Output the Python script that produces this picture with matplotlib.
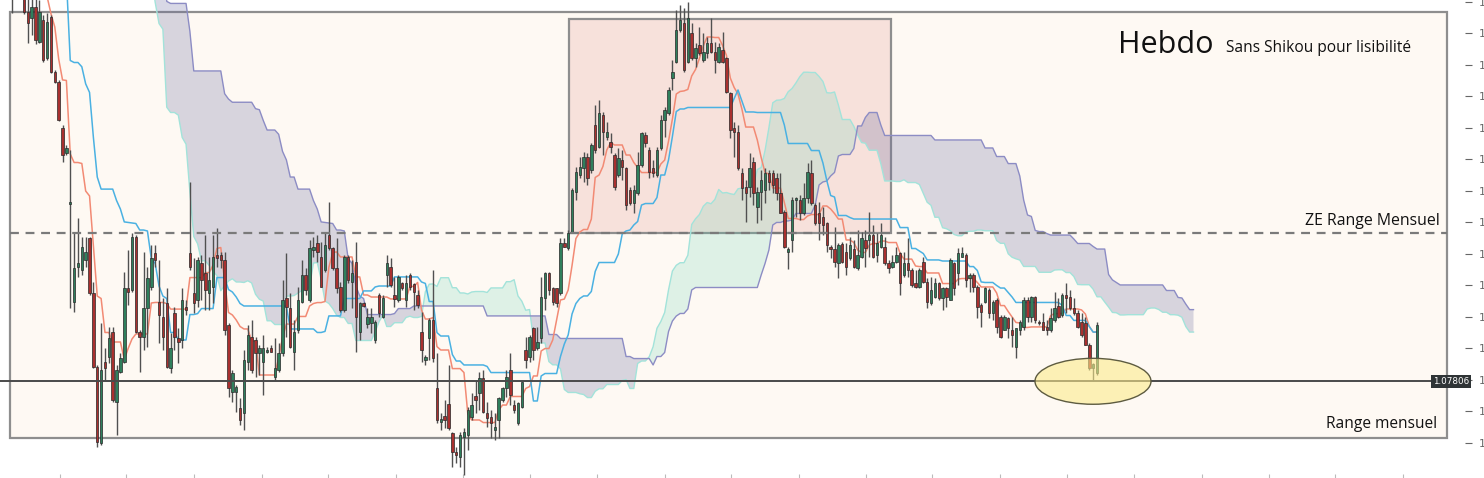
import numpy as np
import pandas as pd
import matplotlib
matplotlib.use("Agg")
import matplotlib.pyplot as plt
from matplotlib.patches import Rectangle, Ellipse
from matplotlib.ticker import FormatStrFormatter
from matplotlib.transforms import blended_transform_factory

# EUR/USD weekly candles, oldest first.
# The first 39 weeks (Jan -> Sep 2014) sit above the visible window,
# they are only there so the Ichimoku lines exist from the left edge.
first_week = "2014-01-06"

opens = [
    1.3590, 1.3670, 1.3540, 1.3680, 1.3490, 1.3600, 1.3690, 1.3740, 1.3800, 1.3870,
    1.3910, 1.3790, 1.3750, 1.3700, 1.3880, 1.3810, 1.3830, 1.3870, 1.3760, 1.3700,
    1.3630, 1.3640, 1.3640, 1.3540, 1.3600, 1.3640, 1.3590, 1.3610, 1.3520, 1.3430,
    1.3420, 1.3410, 1.3400, 1.3240, 1.3130, 1.2950, 1.2960, 1.2830, 1.2680,
    # visible part
    1.2590, 1.2630, 1.2760, 1.2670, 1.2509, 1.2481, 1.2532, 1.2368, 1.2471, 1.2294,
    1.2485, 1.2228, 1.2181, 1.1966, 1.1849, 1.1610, 1.1152, 1.1315, 1.1301, 1.1348,
    1.1451, 1.1194, 1.0847, 1.0492, 1.0871, 1.0894, 1.1011, 1.0684, 1.0824, 1.0871,
    1.1217, 1.1208, 1.1456, 1.1011, 1.0988, 1.1124, 1.1222, 1.1381, 1.1152, 1.1081,
    1.1147, 1.0843, 1.1100, 1.0983, 1.0974, 1.1128, 1.1381, 1.1194, 1.1161, 1.1334,
    1.1287, 1.1194, 1.1222, 1.1372, 1.1372, 1.1348, 1.1044, 1.0730, 1.0730, 1.0656,
    1.0632, 1.0871, 1.0988, 1.0974, 1.0913, 1.0871, 1.0918, 1.0936, 1.0801, 1.0833,
    1.0913, 1.1170, 1.1124, 1.0918, 1.1021, 1.1152, 1.1278, 1.1161, 1.1395, 1.1428,
    1.1362, 1.1301, 1.1465, 1.1404, 1.1311, 1.1222, 1.1114, 1.1362, 1.1245, 1.1339,
    1.1011, 1.1147, 1.1049, 1.1053, 1.0974, 1.1184, 1.1081, 1.1278, 1.1315, 1.1184,
    1.1161, 1.1241, 1.1161, 1.1278, 1.1236, 1.1184, 1.1011, 1.0880, 1.0983, 1.1067,
    1.0749, 1.0590, 1.0618, 1.0674, 1.0539, 1.0450, 1.0426, 1.0520, 1.0529, 1.0613,
    1.0712, 1.0726, 1.0796, 1.0632, 1.0613, 1.0553, 1.0599, 1.0693, 1.0749, 1.0833,
    1.0670, 1.0585, 1.0660, 1.0927, 1.0894, 1.1030, 1.0936, 1.0983, 1.1170, 1.1287,
    1.1217, 1.1217, 1.1194, 1.1428, 1.1404, 1.1479, 1.1666, 1.1746, 1.1779, 1.1830,
    1.1769, 1.1980, 1.1877, 1.2027, 1.1924, 1.1900, 1.1840, 1.1746, 1.1816, 1.1779,
    1.1676, 1.1615, 1.1662, 1.1793, 1.1933, 1.1863, 1.1779, 1.1746, 1.1872, 1.2003,
    1.2036, 1.2200, 1.2275, 1.2425, 1.2457, 1.2275, 1.2411, 1.2294, 1.2354, 1.2284,
    1.2317, 1.2364, 1.2322, 1.2275, 1.2331, 1.2294, 1.2130, 1.1966, 1.1947, 1.1755,
    1.1690, 1.1690, 1.1807, 1.1596, 1.1666, 1.1676, 1.1755, 1.1755, 1.1732, 1.1662,
    1.1573, 1.1385, 1.1442, 1.1629, 1.1629, 1.1568, 1.1638, 1.1755, 1.1606, 1.1568,
    1.1549, 1.1521, 1.1409, 1.1400, 1.1334, 1.1423, 1.1386, 1.1358, 1.1400, 1.1311,
    1.1362, 1.1442, 1.1442, 1.1465, 1.1372, 1.1409, 1.1409, 1.1334, 1.1315, 1.1339,
    1.1381, 1.1278, 1.1334, 1.1301, 1.1241, 1.1222, 1.1339, 1.1245, 1.1147, 1.1175,
    1.1241, 1.1170, 1.1217, 1.1161, 1.1334, 1.1287, 1.1362, 1.1372, 1.1264, 1.1278,
    1.1222, 1.1138, 1.1152, 1.1208, 1.1100, 1.1161, 1.1081, 1.1021, 1.1077, 1.1021,
    1.0941, 1.1021, 1.1035, 1.1161, 1.1081, 1.1175, 1.1058, 1.1058, 1.1035, 1.1021,
    1.1067, 1.1133, 1.1091, 1.1184, 1.1175, 1.1124, 1.1100, 1.1058, 1.1053, 1.0950,
    1.0843, 1.0819,
]

highs = [
    1.3690, 1.3700, 1.3740, 1.3740, 1.3620, 1.3700, 1.3770, 1.3830, 1.3910, 1.3967,
    1.3930, 1.3880, 1.3810, 1.3900, 1.3905, 1.3870, 1.3900, 1.3993, 1.3780, 1.3730,
    1.3670, 1.3670, 1.3650, 1.3640, 1.3680, 1.3700, 1.3640, 1.3630, 1.3530, 1.3440,
    1.3440, 1.3440, 1.3400, 1.3240, 1.3160, 1.2990, 1.3000, 1.2860, 1.2700,
    # visible part
    1.2790, 1.2887, 1.2780, 1.2700, 1.2580, 1.2575, 1.2570, 1.2565, 1.2495, 1.2504,
    1.2495, 1.2237, 1.2191, 1.1980, 1.1886, 1.1863, 1.1475, 1.1545, 1.1456, 1.1456,
    1.1456, 1.1245, 1.0857, 1.1053, 1.0936, 1.1035, 1.1035, 1.0857, 1.0913, 1.1292,
    1.1395, 1.1475, 1.1465, 1.1021, 1.1386, 1.1315, 1.1418, 1.1418, 1.1348, 1.1170,
    1.1217, 1.1007, 1.1128, 1.1030, 1.1217, 1.1161, 1.1713, 1.1358, 1.1362, 1.1372,
    1.1465, 1.1362, 1.1465, 1.1498, 1.1386, 1.1386, 1.1053, 1.0833, 1.0763, 1.0702,
    1.0927, 1.1044, 1.1067, 1.0988, 1.0950, 1.0997, 1.0941, 1.0950, 1.0983, 1.0960,
    1.1255, 1.1381, 1.1194, 1.1067, 1.1222, 1.1348, 1.1311, 1.1442, 1.1456, 1.1465,
    1.1432, 1.1475, 1.1620, 1.1409, 1.1451, 1.1245, 1.1372, 1.1372, 1.1348, 1.1432,
    1.1152, 1.1152, 1.1124, 1.1124, 1.1067, 1.1194, 1.1184, 1.1372, 1.1358, 1.1269,
    1.1278, 1.1245, 1.1278, 1.1287, 1.1241, 1.1208, 1.1105, 1.0904, 1.1077, 1.1301,
    1.0913, 1.0632, 1.0693, 1.0857, 1.0543, 1.0473, 1.0543, 1.0562, 1.0660, 1.0726,
    1.0787, 1.0824, 1.0833, 1.0684, 1.0646, 1.0632, 1.0707, 1.0754, 1.0833, 1.0913,
    1.0693, 1.0684, 1.0777, 1.0988, 1.0997, 1.1035, 1.1035, 1.1269, 1.1292, 1.1292,
    1.1222, 1.1217, 1.1451, 1.1451, 1.1489, 1.1685, 1.1783, 1.1830, 1.1854, 1.1849,
    1.1896, 1.2074, 1.2097, 1.2041, 1.1994, 1.1943, 1.1849, 1.1872, 1.1863, 1.1783,
    1.1690, 1.1699, 1.1854, 1.1947, 1.1947, 1.1877, 1.1816, 1.1877, 1.2027, 1.2064,
    1.2158, 1.2284, 1.2518, 1.2542, 1.2528, 1.2556, 1.2457, 1.2364, 1.2439, 1.2411,
    1.2392, 1.2481, 1.2368, 1.2364, 1.2415, 1.2298, 1.2134, 1.1994, 1.1980, 1.1779,
    1.1723, 1.1849, 1.1830, 1.1690, 1.1769, 1.1779, 1.1769, 1.1769, 1.1755, 1.1755,
    1.1582, 1.1409, 1.1643, 1.1643, 1.1652, 1.1709, 1.1802, 1.1816, 1.1615, 1.1620,
    1.1596, 1.1526, 1.1418, 1.1503, 1.1428, 1.1432, 1.1428, 1.1456, 1.1442, 1.1489,
    1.1479, 1.1489, 1.1573, 1.1512, 1.1475, 1.1521, 1.1456, 1.1348, 1.1372, 1.1409,
    1.1386, 1.1386, 1.1451, 1.1311, 1.1301, 1.1311, 1.1362, 1.1264, 1.1269, 1.1264,
    1.1245, 1.1222, 1.1222, 1.1358, 1.1339, 1.1404, 1.1409, 1.1381, 1.1287, 1.1287,
    1.1231, 1.1147, 1.1222, 1.1217, 1.1161, 1.1170, 1.1091, 1.1091, 1.1081, 1.1081,
    1.1030, 1.1067, 1.1175, 1.1175, 1.1180, 1.1180, 1.1067, 1.1100, 1.1067, 1.1124,
    1.1198, 1.1170, 1.1194, 1.1241, 1.1208, 1.1170, 1.1114, 1.1100, 1.1081, 1.0960,
    1.0866, 1.1058,
]

lows = [
    1.3550, 1.3510, 1.3510, 1.3480, 1.3480, 1.3580, 1.3640, 1.3640, 1.3730, 1.3840,
    1.3750, 1.3720, 1.3670, 1.3690, 1.3790, 1.3780, 1.3800, 1.3750, 1.3650, 1.3615,
    1.3590, 1.3500, 1.3540, 1.3520, 1.3580, 1.3590, 1.3570, 1.3490, 1.3420, 1.3370,
    1.3330, 1.3340, 1.3240, 1.3120, 1.2920, 1.2860, 1.2830, 1.2680, 1.2580,
    # visible part
    1.2504, 1.2610, 1.2610, 1.2500, 1.2364, 1.2401, 1.2358, 1.2364, 1.2275, 1.2284,
    1.2223, 1.2177, 1.1999, 1.1807, 1.1840, 1.1124, 1.1105, 1.1269, 1.1278, 1.1315,
    1.1184, 1.0843, 1.0473, 1.0482, 1.0787, 1.0866, 1.0684, 1.0529, 1.0819, 1.0866,
    1.1138, 1.1198, 1.1007, 1.0824, 1.0927, 1.0941, 1.1208, 1.1315, 1.0960, 1.0927,
    1.0843, 1.0819, 1.0927, 1.0866, 1.0936, 1.1091, 1.1301, 1.1100, 1.1128, 1.1161,
    1.1114, 1.1114, 1.1147, 1.1315, 1.1311, 1.0997, 1.0707, 1.0684, 1.0637, 1.0576,
    1.0553, 1.0833, 1.0819, 1.0801, 1.0810, 1.0716, 1.0913, 1.0918, 1.0787, 1.0824,
    1.0900, 1.0988, 1.0936, 1.0833, 1.1007, 1.1147, 1.1184, 1.1152, 1.1362, 1.1339,
    1.1222, 1.1292, 1.1395, 1.1301, 1.1194, 1.1105, 1.1105, 1.1241, 1.1124, 1.0918,
    1.0974, 1.1128, 1.1030, 1.1007, 1.0960, 1.1081, 1.1077, 1.1222, 1.1222, 1.1128,
    1.1152, 1.1208, 1.1128, 1.1208, 1.1114, 1.1124, 1.0871, 1.0857, 1.0880, 1.0871,
    1.0585, 1.0553, 1.0562, 1.0553, 1.0379, 1.0398, 1.0379, 1.0342, 1.0459, 1.0599,
    1.0632, 1.0646, 1.0632, 1.0567, 1.0515, 1.0506, 1.0515, 1.0684, 1.0707, 1.0670,
    1.0632, 1.0576, 1.0656, 1.0843, 1.0871, 1.0880, 1.0927, 1.0960, 1.1114, 1.1184,
    1.1138, 1.1128, 1.1184, 1.1409, 1.1395, 1.1475, 1.1629, 1.1732, 1.1713, 1.1699,
    1.1755, 1.1849, 1.1872, 1.1840, 1.1910, 1.1849, 1.1676, 1.1737, 1.1723, 1.1582,
    1.1606, 1.1568, 1.1652, 1.1783, 1.1877, 1.1732, 1.1737, 1.1737, 1.1863, 1.1924,
    1.2027, 1.2144, 1.2270, 1.2415, 1.2228, 1.2270, 1.2284, 1.2251, 1.2308, 1.2275,
    1.2294, 1.2317, 1.2223, 1.2270, 1.2270, 1.2130, 1.1919, 1.1830, 1.1769, 1.1629,
    1.1526, 1.1643, 1.1606, 1.1521, 1.1535, 1.1615, 1.1676, 1.1662, 1.1629, 1.1568,
    1.1404, 1.1306, 1.1386, 1.1549, 1.1535, 1.1559, 1.1615, 1.1606, 1.1512, 1.1442,
    1.1465, 1.1386, 1.1358, 1.1315, 1.1264, 1.1334, 1.1278, 1.1348, 1.1311, 1.1301,
    1.1358, 1.1315, 1.1362, 1.1358, 1.1339, 1.1404, 1.1325, 1.1287, 1.1311, 1.1334,
    1.1184, 1.1269, 1.1269, 1.1222, 1.1217, 1.1217, 1.1241, 1.1124, 1.1138, 1.1170,
    1.1161, 1.1114, 1.1128, 1.1161, 1.1184, 1.1231, 1.1362, 1.1222, 1.1198, 1.1198,
    1.1077, 1.1035, 1.1147, 1.1077, 1.1067, 1.1007, 1.0983, 1.1021, 1.0983, 1.0941,
    1.0890, 1.0997, 1.1021, 1.1058, 1.1058, 1.1053, 1.1044, 1.1021, 1.0997, 1.1011,
    1.1058, 1.1077, 1.1081, 1.1100, 1.1114, 1.1091, 1.1030, 1.0988, 1.0950, 1.0833,
    1.0781, 1.0810,
]

closes = [
    1.3670, 1.3540, 1.3680, 1.3490, 1.3600, 1.3690, 1.3740, 1.3800, 1.3870, 1.3910,
    1.3790, 1.3750, 1.3700, 1.3880, 1.3810, 1.3830, 1.3870, 1.3760, 1.3700, 1.3630,
    1.3640, 1.3640, 1.3540, 1.3600, 1.3640, 1.3590, 1.3610, 1.3520, 1.3430, 1.3420,
    1.3410, 1.3400, 1.3240, 1.3130, 1.2950, 1.2960, 1.2830, 1.2680, 1.2590,
    # visible part
    1.2630, 1.2760, 1.2670, 1.2509, 1.2457, 1.2532, 1.2380, 1.2509, 1.2284, 1.2462,
    1.2228, 1.2181, 1.2003, 1.1840, 1.1872, 1.1620, 1.1311, 1.1334, 1.1409, 1.1386,
    1.1194, 1.0847, 1.0496, 1.0833, 1.0843, 1.0983, 1.0693, 1.0833, 1.0890, 1.1217,
    1.1198, 1.1456, 1.1011, 1.0988, 1.1124, 1.1264, 1.1358, 1.1348, 1.1091, 1.0988,
    1.0847, 1.0936, 1.0988, 1.0964, 1.1161, 1.1114, 1.1315, 1.1147, 1.1348, 1.1255,
    1.1208, 1.1255, 1.1362, 1.1358, 1.1348, 1.1021, 1.0749, 1.0819, 1.0754, 1.0599,
    1.0880, 1.0997, 1.0833, 1.0913, 1.0936, 1.0936, 1.0927, 1.0918, 1.0843, 1.0913,
    1.1161, 1.1128, 1.0941, 1.1011, 1.1161, 1.1278, 1.1208, 1.1404, 1.1409, 1.1386,
    1.1222, 1.1418, 1.1404, 1.1311, 1.1217, 1.1114, 1.1362, 1.1255, 1.1287, 1.1081,
    1.1147, 1.1133, 1.1081, 1.1081, 1.1058, 1.1100, 1.1170, 1.1334, 1.1231, 1.1166,
    1.1269, 1.1217, 1.1241, 1.1222, 1.1198, 1.1138, 1.0927, 1.0894, 1.1067, 1.0890,
    1.0599, 1.0604, 1.0599, 1.0562, 1.0450, 1.0436, 1.0529, 1.0543, 1.0646, 1.0670,
    1.0693, 1.0796, 1.0637, 1.0609, 1.0585, 1.0567, 1.0702, 1.0749, 1.0801, 1.0716,
    1.0646, 1.0679, 1.0777, 1.0880, 1.0988, 1.0927, 1.0964, 1.1175, 1.1287, 1.1208,
    1.1152, 1.1147, 1.1428, 1.1409, 1.1475, 1.1676, 1.1760, 1.1783, 1.1830, 1.1732,
    1.1886, 1.1863, 1.2036, 1.1947, 1.1947, 1.1877, 1.1690, 1.1826, 1.1783, 1.1606,
    1.1615, 1.1676, 1.1793, 1.1943, 1.1896, 1.1760, 1.1755, 1.1863, 1.2003, 1.2050,
    1.2144, 1.2228, 1.2425, 1.2471, 1.2237, 1.2481, 1.2294, 1.2340, 1.2317, 1.2322,
    1.2364, 1.2322, 1.2284, 1.2345, 1.2275, 1.2134, 1.1957, 1.1947, 1.1779, 1.1685,
    1.1662, 1.1779, 1.1662, 1.1666, 1.1723, 1.1755, 1.1713, 1.1699, 1.1662, 1.1568,
    1.1409, 1.1400, 1.1629, 1.1638, 1.1568, 1.1638, 1.1760, 1.1615, 1.1521, 1.1521,
    1.1512, 1.1418, 1.1400, 1.1339, 1.1418, 1.1339, 1.1315, 1.1418, 1.1315, 1.1372,
    1.1451, 1.1404, 1.1465, 1.1362, 1.1428, 1.1465, 1.1334, 1.1311, 1.1339, 1.1372,
    1.1241, 1.1334, 1.1301, 1.1231, 1.1222, 1.1301, 1.1245, 1.1152, 1.1208, 1.1241,
    1.1170, 1.1217, 1.1175, 1.1348, 1.1217, 1.1381, 1.1381, 1.1255, 1.1278, 1.1222,
    1.1128, 1.1105, 1.1217, 1.1100, 1.1152, 1.1035, 1.0988, 1.1081, 1.1030, 1.0997,
    1.1030, 1.1058, 1.1161, 1.1081, 1.1175, 1.1067, 1.1053, 1.1021, 1.1021, 1.1077,
    1.1124, 1.1081, 1.1184, 1.1170, 1.1124, 1.1100, 1.1035, 1.0997, 1.0950, 1.0843,
    1.0861, 1.1044,
]

# horizontal levels drawn on the chart
last_low = 1.07806       # support line + price tag
ze_level = 1.1475        # "ZE Range Mensuel"
range_top = 1.2509
range_bottom = 1.0515
box_top = 1.2476

# ---- layout (pixels of the 1484x478 image) ----
W, H = 1484, 478
plot_right = 1465
bar_px = 3.86
last_bar_px = 1097

n = len(closes)
assert len(opens) == len(highs) == len(lows) == n

xmin = (n - 1) - last_bar_px / bar_px
xmax = xmin + plot_right / bar_px
ymin, ymax = 1.0328, 1.2565


def px_bar(px):
    return xmin + px / bar_px


df = pd.DataFrame({"open": opens, "high": highs, "low": lows, "close": closes})
dates = pd.date_range(first_week, periods=n, freq="W-MON")

# Ichimoku (9, 26, 52), clouds displaced 25 bars forward
hi, lo = df["high"], df["low"]
tenkan = (hi.rolling(9).max() + lo.rolling(9).min()) / 2
kijun = (hi.rolling(26).max() + lo.rolling(26).min()) / 2
span_a = ((tenkan + kijun) / 2).to_numpy()
span_b = ((hi.rolling(52).max() + lo.rolling(52).min()) / 2).to_numpy()
shift = 25

fig = plt.figure(figsize=(W / 100, H / 100), dpi=100)
fig.patch.set_facecolor("white")
ax = fig.add_axes([0, 0, plot_right / W, 1])
ax.set_facecolor("white")
for s in ax.spines.values():
    s.set_visible(False)

# big range rectangle
r0, r1 = px_bar(10), px_bar(1447)
ax.add_patch(Rectangle((r0, range_bottom), r1 - r0, range_top - range_bottom,
                       facecolor="#fef9f3", edgecolor="#8e8e8e", lw=1.6, zorder=0.5))
# pink box on the 2017-2018 rally
b0, b1 = px_bar(569), px_bar(891)
ax.add_patch(Rectangle((b0, ze_level), b1 - b0, box_top - ze_level,
                       facecolor="#f7e1db", edgecolor="#8e8e8e", lw=1.6, zorder=0.8))

# cloud
xc = np.arange(n) + shift
ax.fill_between(xc, span_a, span_b, where=span_a >= span_b, interpolate=True,
                color="#5fd3b5", alpha=0.2, lw=0, zorder=1)
ax.fill_between(xc, span_a, span_b, where=span_a < span_b, interpolate=True,
                color="#6a6aa0", alpha=0.26, lw=0, zorder=1)
ax.plot(xc, span_a, color="#a3e3da", lw=1.0, zorder=1.5)
ax.plot(xc, span_b, color="#8c8cc4", lw=1.0, zorder=1.5)

# tenkan / kijun
x = np.arange(n)
ax.plot(x, tenkan, color="#f28a74", lw=1.1, zorder=3)
ax.plot(x, kijun, color="#4ab1e2", lw=1.1, zorder=3)

# candles
o = df["open"].to_numpy()
c = df["close"].to_numpy()
h = np.maximum(df["high"].to_numpy(), np.maximum(o, c))
l = np.minimum(df["low"].to_numpy(), np.minimum(o, c))
up = c >= o
ax.vlines(x, l, h, color="#505050", lw=1.0, zorder=4)
body_lo = np.minimum(o, c)
body_h = np.maximum(np.abs(c - o), 0.0005)
ax.bar(x, body_h, bottom=body_lo, width=0.64,
       color=np.where(up, "#2f7f5c", "#a9302f"), edgecolor="#2a2a2a",
       linewidth=0.5, zorder=5)

# levels
ax.hlines(ze_level, r0, r1, colors="#7a7a7a", linestyles=(0, (4, 3)), lw=1.6, zorder=6)
ax.axhline(last_low, color="#4a4a4a", lw=1.4, zorder=6)
ax.add_patch(Ellipse((px_bar(1093), last_low), 116 / bar_px, 0.0215,
                     facecolor=(0.99, 0.92, 0.55, 0.6), edgecolor="#5d5b40",
                     lw=1.0, zorder=7))

trans = blended_transform_factory(ax.transAxes, ax.transData)
ax.text(1433 / plot_right, last_low, "1.07806", transform=trans, ha="left", va="center",
        fontsize=6.3, color="white", zorder=9, clip_on=False,
        bbox=dict(boxstyle="square,pad=0.22", facecolor="#2f3436", edgecolor="none"))

# price scale on the right (labels are cut by the image border, as in the screenshot)
ax.yaxis.tick_right()
ax.set_yticks(1.0492 + 0.01475 * np.arange(15))
ax.yaxis.set_major_formatter(FormatStrFormatter("%.4f"))
ax.tick_params(axis="y", direction="out", length=5, width=0.8, pad=5,
               labelsize=8, colors="#666666")

# time scale ticks: Jan / May / Sep
months = pd.date_range("2014-01-01", "2022-01-01", freq="MS")
months = months[months.month.isin([1, 5, 9])]
mpos = (months - dates[0]).days / 7.0
ax.set_xticks(mpos[(mpos > xmin) & (mpos < xmax)])
ax.tick_params(axis="x", direction="in", length=3, width=0.8, colors="#bbbbbb",
               labelbottom=False)

# limits last, so the ticks do not widen them
ax.set_xlim(xmin, xmax)
ax.set_ylim(ymin, ymax)

# annotations
font = "Open Sans"
fig.text(1118 / W, 1 - 53 / H, "Hebdo", fontsize=22, family=font, color="#111111",
         ha="left", va="baseline")
fig.text(1226 / W, 1 - 52 / H, "Sans Shikou pour lisibilité", fontsize=11.2,
         family=font, color="#111111", ha="left", va="baseline")
fig.text(1440 / W, 1 - 225 / H, "ZE Range Mensuel", fontsize=11.4, family=font,
         color="#111111", ha="right", va="baseline")
fig.text(1437 / W, 1 - 428 / H, "Range mensuel", fontsize=11.2, family=font,
         color="#111111", ha="right", va="baseline")

fig.savefig("out.png", dpi=100)
